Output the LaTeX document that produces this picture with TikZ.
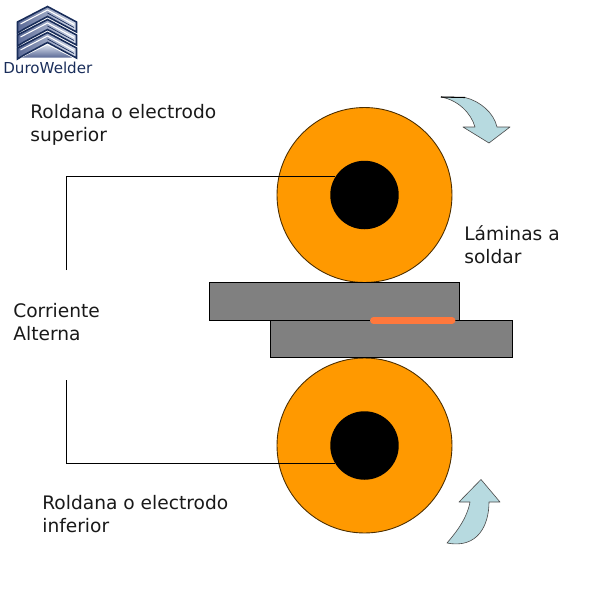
\documentclass[tikz,border=0pt]{standalone}
\usepackage{fontspec}
\setmainfont{DejaVu Sans}
\usetikzlibrary{calc}
\definecolor{roller}{RGB}{255,153,0}
\definecolor{sheet}{RGB}{128,128,128}
\definecolor{weld}{RGB}{255,120,60}
\definecolor{arrowfill}{RGB}{183,218,224}
\definecolor{logoink}{RGB}{25,45,90}
\definecolor{logomid}{RGB}{90,105,150}
\definecolor{logolight}{RGB}{215,222,236}
\tikzset{
  x=0.02cm,y=-0.02cm,
  rollernode/.style={circle,draw=black!70!roller,line width=0.5pt,fill=roller,minimum size=3.5cm,inner sep=0pt},
  holenode/.style={circle,fill=black,minimum size=1.37cm,inner sep=0pt},
  sheetnode/.style={rectangle,draw=black,line width=0.6pt,fill=sheet,inner sep=0pt,anchor=north west},
  wire/.style={draw=black,line width=0.45pt},
  lbl/.style={anchor=west,align=left,font=\fontsize{10.6}{13.2}\selectfont,inner sep=0pt,text=black!90},
  arrowshape/.style={fill=arrowfill,draw=black!70,line width=0.35pt,line join=round},
  chev/.style={draw=logoink,line width=0.9pt,left color=logomid,right color=logolight,line join=miter},
  chevline/.style={draw=white,line width=0.6pt},
  chevink/.style={draw=logoink,line width=0.4pt},
}
\begin{document}
\begin{tikzpicture}
\useasboundingbox (0,0) rectangle (593,593);
% rollers
\node[rollernode] (rollerA) at (364.5,195) {};
\node[rollernode] (rollerB) at (364.5,445.5) {};
\node[holenode] (holeA) at (364.5,195) {};
\node[holenode] (holeB) at (364.5,445.5) {};
% sheets
\node[sheetnode,minimum width=5cm,minimum height=0.76cm] (sheetA) at (208.7,281.7) {};
\node[sheetnode,minimum width=4.84cm,minimum height=0.74cm] (sheetB) at (269.7,319.7) {};
\draw[draw=weld,line width=1.35mm,line cap=round] (373.5,320.5) -- (452,320.5);
% wires
\coordinate (wireA) at (66.5,270);
\coordinate (wireB) at (66.5,380);
\draw[wire] (wireA) |- (holeA.148);
\draw[wire] (wireB) |- (holeB.212);
% labels
\node[lbl] (t1) at (30,125) {Roldana o electrodo\\superior};
\node[lbl] (t2) at (464,245) {Láminas a\\soldar};
\node[lbl] (t3) at (13,322) {Corriente\\Alterna};
\node[lbl] (t4) at (42,514) {Roldana o electrodo\\inferior};
% arrows
\path[arrowshape] (441,97) -- (465,97.5) .. controls (480,101) and (494,113) .. (497,127)
  -- (510,127) -- (489,143) -- (463,127) -- (475,127)
  .. controls (471,113) and (458,100) .. (441,97) -- cycle;
\draw[black,line width=0.6pt] (441,97) -- (465,97.5);
\path[arrowshape] (447,543) .. controls (458,530) and (467,518) .. (470,502)
  -- (459,502) -- (481,479.5) -- (500,502) -- (489,502)
  .. controls (489,525) and (478,549) .. (447,543) -- cycle;
% logo
\foreach \d in {0,13,26}{
  \path[chev] (17.5,{22+\d}) -- (47.5,{6.5+\d}) -- (76.5,{22+\d}) -- (76.5,{32+\d}) -- (47.5,{16.5+\d}) -- (24,{29+\d}) -- (17.5,{33+\d}) -- cycle;
  \draw[chevline] (20.5,{24+\d}) -- (47.5,{10+\d}) -- (74,{24.5+\d});
  \draw[chevink] (47.5,{13+\d}) -- (74,{27.5+\d});
}
\path[top color=logolight,bottom color=logomid] (22,57.5) -- (47.5,45) -- (72,57.5) -- cycle;
\node[anchor=base west,inner sep=0pt,text=logoink,font=\fontsize{8.6}{11}\selectfont] (brand) at (3,73) {DuroWelder};
\end{tikzpicture}
\end{document}
